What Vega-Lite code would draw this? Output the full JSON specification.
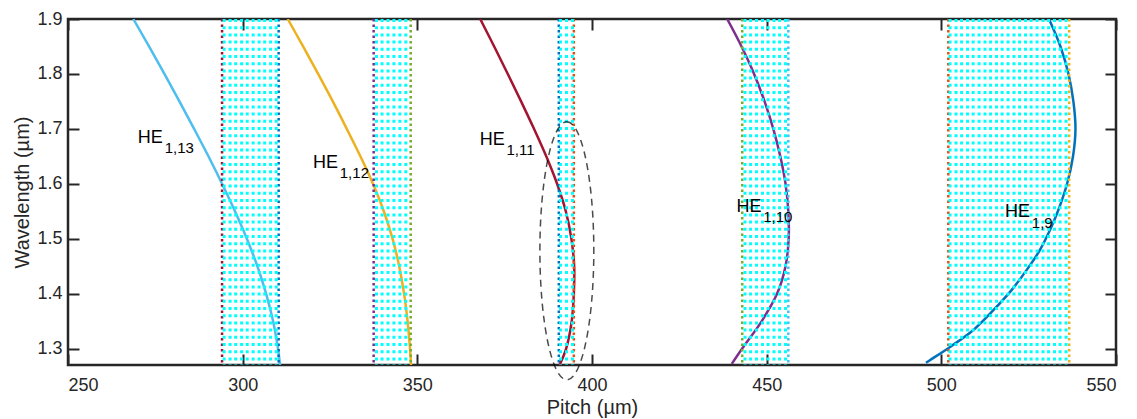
{
  "$schema": "https://vega.github.io/schema/vega-lite/v6.json",
  "width": 1048,
  "height": 346,
  "autosize": "none",
  "padding": {"left": 68, "top": 19, "right": 21, "bottom": 54},
  "background": "white",
  "config": {
    "view": {"stroke": "#262626", "strokeWidth": 2.5},
    "axis": {
      "grid": false,
      "domain": false,
      "tickColor": "#262626",
      "tickWidth": 2,
      "labelFont": "Liberation Sans",
      "labelFontSize": 18,
      "labelColor": "#262626",
      "titleFont": "Liberation Sans",
      "titleFontSize": 20,
      "titleColor": "#262626",
      "titleFontWeight": "normal"
    }
  },
  "datasets": {
    "curves": [
      {"mode": "HE13", "x": 268.7, "y": 1.9}, {"mode": "HE13", "x": 273.2, "y": 1.85}, {"mode": "HE13", "x": 277.6, "y": 1.8}, {"mode": "HE13", "x": 281.9, "y": 1.75}, {"mode": "HE13", "x": 286.1, "y": 1.7}, {"mode": "HE13", "x": 290.2, "y": 1.65}, {"mode": "HE13", "x": 294.1, "y": 1.6}, {"mode": "HE13", "x": 297.8, "y": 1.55}, {"mode": "HE13", "x": 301.2, "y": 1.5}, {"mode": "HE13", "x": 304.2, "y": 1.45}, {"mode": "HE13", "x": 306.7, "y": 1.4}, {"mode": "HE13", "x": 308.7, "y": 1.35}, {"mode": "HE13", "x": 310.1, "y": 1.3}, {"mode": "HE13", "x": 310.7, "y": 1.27},
      {"mode": "HE12", "x": 312.9, "y": 1.9}, {"mode": "HE12", "x": 317.3, "y": 1.85}, {"mode": "HE12", "x": 321.6, "y": 1.8}, {"mode": "HE12", "x": 325.8, "y": 1.75}, {"mode": "HE12", "x": 329.8, "y": 1.7}, {"mode": "HE12", "x": 333.7, "y": 1.65}, {"mode": "HE12", "x": 337.3, "y": 1.6}, {"mode": "HE12", "x": 340.4, "y": 1.55}, {"mode": "HE12", "x": 342.9, "y": 1.5}, {"mode": "HE12", "x": 344.8, "y": 1.45}, {"mode": "HE12", "x": 346.2, "y": 1.4}, {"mode": "HE12", "x": 347.2, "y": 1.35}, {"mode": "HE12", "x": 347.9, "y": 1.3}, {"mode": "HE12", "x": 348.2, "y": 1.27},
      {"mode": "HE11", "x": 368.0, "y": 1.9}, {"mode": "HE11", "x": 372.0, "y": 1.85}, {"mode": "HE11", "x": 375.9, "y": 1.8}, {"mode": "HE11", "x": 379.7, "y": 1.75}, {"mode": "HE11", "x": 383.4, "y": 1.7}, {"mode": "HE11", "x": 386.9, "y": 1.65}, {"mode": "HE11", "x": 390.0, "y": 1.6}, {"mode": "HE11", "x": 392.5, "y": 1.55}, {"mode": "HE11", "x": 394.1, "y": 1.5}, {"mode": "HE11", "x": 394.9, "y": 1.45}, {"mode": "HE11", "x": 394.8, "y": 1.4}, {"mode": "HE11", "x": 394.2, "y": 1.35}, {"mode": "HE11", "x": 392.6, "y": 1.3}, {"mode": "HE11", "x": 390.7, "y": 1.27},
      {"mode": "HE10", "x": 438.7, "y": 1.9}, {"mode": "HE10", "x": 442.8, "y": 1.85}, {"mode": "HE10", "x": 446.4, "y": 1.8}, {"mode": "HE10", "x": 449.4, "y": 1.75}, {"mode": "HE10", "x": 451.9, "y": 1.7}, {"mode": "HE10", "x": 453.9, "y": 1.65}, {"mode": "HE10", "x": 455.4, "y": 1.6}, {"mode": "HE10", "x": 456.2, "y": 1.55}, {"mode": "HE10", "x": 456.3, "y": 1.5}, {"mode": "HE10", "x": 455.4, "y": 1.45}, {"mode": "HE10", "x": 453.0, "y": 1.4}, {"mode": "HE10", "x": 448.6, "y": 1.35}, {"mode": "HE10", "x": 443.0, "y": 1.3}, {"mode": "HE10", "x": 440.0, "y": 1.272},
      {"mode": "HE9", "x": 530.8, "y": 1.9}, {"mode": "HE9", "x": 534.1, "y": 1.85}, {"mode": "HE9", "x": 536.4, "y": 1.8}, {"mode": "HE9", "x": 537.8, "y": 1.75}, {"mode": "HE9", "x": 538.4, "y": 1.7}, {"mode": "HE9", "x": 537.7, "y": 1.65}, {"mode": "HE9", "x": 536.0, "y": 1.6}, {"mode": "HE9", "x": 533.5, "y": 1.5522}, {"mode": "HE9", "x": 531.1, "y": 1.5157}, {"mode": "HE9", "x": 528.2, "y": 1.4792}, {"mode": "HE9", "x": 524.4, "y": 1.4427}, {"mode": "HE9", "x": 520.1, "y": 1.4063}, {"mode": "HE9", "x": 514.9, "y": 1.3698}, {"mode": "HE9", "x": 509.1, "y": 1.3333}, {"mode": "HE9", "x": 502.5, "y": 1.3029}, {"mode": "HE9", "x": 496.7, "y": 1.2786}, {"mode": "HE9", "x": 495.6, "y": 1.274}
    ],
    "edges": [
      {"x": 294.1, "c": "darkred"}, {"x": 310.3, "c": "blue"},
      {"x": 337.5, "c": "purple"}, {"x": 348.1, "c": "green"},
      {"x": 390.5, "c": "blue"}, {"x": 394.8, "c": "orange"},
      {"x": 443.0, "c": "green"}, {"x": 456.2, "c": "lightblue"},
      {"x": 502.0, "c": "orange"}, {"x": 536.6, "c": "yellow"}
    ],
    "fill": [
      {"x": 294.7}, {"x": 296.4}, {"x": 298.0}, {"x": 299.7}, {"x": 301.3}, {"x": 303.0}, {"x": 304.7}, {"x": 306.3}, {"x": 308.0}, {"x": 309.6},
      {"x": 338.3}, {"x": 339.9}, {"x": 341.6}, {"x": 343.3}, {"x": 345.0}, {"x": 346.7},
      {"x": 391.0}, {"x": 392.7}, {"x": 394.4},
      {"x": 443.8}, {"x": 445.4}, {"x": 447.1}, {"x": 448.8}, {"x": 450.4}, {"x": 452.1}, {"x": 453.7}, {"x": 455.4},
      {"x": 502.5}, {"x": 504.2}, {"x": 505.8}, {"x": 507.5}, {"x": 509.1}, {"x": 510.8}, {"x": 512.5}, {"x": 514.1}, {"x": 515.8}, {"x": 517.4}, {"x": 519.1}, {"x": 520.8}, {"x": 522.4}, {"x": 524.1}, {"x": 525.7}, {"x": 527.4}, {"x": 529.1}, {"x": 530.7}, {"x": 532.4}, {"x": 534.0}, {"x": 535.7}
    ],
    "labels": [
      {"t": "HE", "kind": "main", "x": 270.0, "y": 1.6738}, {"t": "1,13", "kind": "sub", "x": 277.7, "y": 1.6556},
      {"t": "HE", "kind": "main", "x": 320.15, "y": 1.6283}, {"t": "1,12", "kind": "sub", "x": 327.8, "y": 1.61},
      {"t": "HE", "kind": "main", "x": 367.9, "y": 1.6707}, {"t": "1,11", "kind": "sub", "x": 375.5, "y": 1.6525},
      {"t": "HE", "kind": "main", "x": 441.4, "y": 1.5491}, {"t": "1,10", "kind": "sub", "x": 449.0, "y": 1.5298},
      {"t": "HE", "kind": "main", "x": 518.2, "y": 1.54}, {"t": "1,9", "kind": "sub", "x": 525.9, "y": 1.5199}
    ],
    "ellipse": [{"x": 392.8, "y": 1.478}]
  },
  "layer": [
    {
      "data": {"name": "curves"},
      "mark": {"type": "line", "strokeWidth": 2.5, "clip": true, "interpolate": "catmull-rom"},
      "encoding": {
        "x": {"field": "x", "type": "quantitative",
          "scale": {"domain": [250, 550], "nice": false, "zero": false},
          "axis": {"orient": "bottom", "values": [250, 300, 350, 400, 450, 500, 550], "tickSize": -11, "labelPadding": 22,
            "title": "Pitch (µm)", "titleX": 524, "titleY": 48, "titleBaseline": "alphabetic", "titleAlign": "center"}},
        "y": {"field": "y", "type": "quantitative",
          "scale": {"domain": [1.27, 1.9], "nice": false, "zero": false},
          "axis": {"orient": "left", "values": [1.3, 1.4, 1.5, 1.6, 1.7, 1.8, 1.9], "format": ".1f", "tickSize": -11, "labelPadding": 17,
            "title": "Wavelength (µm)", "titleX": -40, "titleY": 173, "titleBaseline": "alphabetic", "titleAngle": -90, "titleAlign": "center"}},
        "color": {"field": "mode", "type": "nominal",
          "scale": {"domain": ["HE13", "HE12", "HE11", "HE10", "HE9"], "range": ["#4DBEEE", "#EDB120", "#A2142F", "#7E2F8E", "#0072BD"]},
          "legend": null},
        "order": {"field": "y", "type": "quantitative"}
      }
    },
    {
      "data": {"name": "edges"},
      "mark": {"type": "rule", "strokeWidth": 2.5, "strokeDash": [2.5, 3]},
      "encoding": {
        "x": {"field": "x", "type": "quantitative",
          "axis": {"orient": "top", "values": [250, 300, 350, 400, 450, 500, 550], "labels": false, "tickSize": -11, "title": null}},
        "y": {"datum": 1.9, "type": "quantitative",
          "axis": {"orient": "right", "values": [1.3, 1.4, 1.5, 1.6, 1.7, 1.8, 1.9], "labels": false, "tickSize": -11, "title": null}},
        "y2": {"datum": 1.27},
        "stroke": {"field": "c", "type": "nominal",
          "scale": {"domain": ["darkred", "blue", "purple", "green", "orange", "lightblue", "yellow"], "range": ["#A2142F", "#0072BD", "#7E2F8E", "#77AC30", "#D95319", "#4DBEEE", "#EDB120"]},
          "legend": null}
      }
    },
    {
      "data": {"name": "fill"},
      "mark": {"type": "rule", "strokeWidth": 3, "strokeDash": [3, 4.2], "color": "#00FFFF"},
      "encoding": {
        "x": {"field": "x", "type": "quantitative", "axis": null},
        "y": {"datum": 1.9, "type": "quantitative", "axis": null},
        "y2": {"datum": 1.27}
      }
    },
    {
      "data": {"name": "labels"},
      "transform": [{"filter": "datum.kind === 'main'"}],
      "mark": {"type": "text", "align": "left", "baseline": "alphabetic", "font": "Liberation Sans", "fontSize": 18, "color": "#000000"},
      "encoding": {
        "x": {"field": "x", "type": "quantitative", "axis": null},
        "y": {"field": "y", "type": "quantitative", "axis": null},
        "text": {"field": "t"}
      }
    },
    {
      "data": {"name": "labels"},
      "transform": [{"filter": "datum.kind === 'sub'"}],
      "mark": {"type": "text", "align": "left", "baseline": "alphabetic", "font": "Liberation Sans", "fontSize": 15, "color": "#000000"},
      "encoding": {
        "x": {"field": "x", "type": "quantitative", "axis": null},
        "y": {"field": "y", "type": "quantitative", "axis": null},
        "text": {"field": "t"}
      }
    },
    {
      "data": {"name": "ellipse"},
      "mark": {"type": "point", "filled": false, "stroke": "#000000", "strokeWidth": 1.5, "strokeDash": [7, 5],
        "size": 66564,
        "shape": "M0,-1 C0.1154,-1 0.209,-0.5523 0.209,0 C0.209,0.5523 0.1154,1 0,1 C-0.1154,1 -0.209,0.5523 -0.209,0 C-0.209,-0.5523 -0.1154,-1 0,-1 Z"},
      "encoding": {
        "x": {"field": "x", "type": "quantitative", "axis": null},
        "y": {"field": "y", "type": "quantitative", "axis": null}
      }
    }
  ],
  "resolve": {"axis": {"x": "independent", "y": "independent"}}
}
